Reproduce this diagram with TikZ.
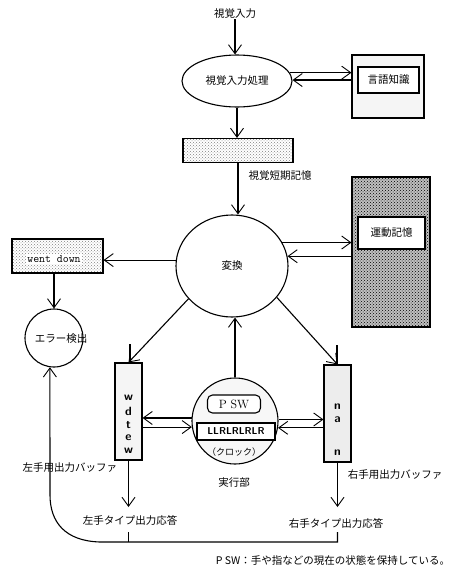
\documentclass[tikz,border=0pt]{standalone}
\usepackage{fontspec}
\newfontfamily\jp{Noto Sans CJK JP}
\usetikzlibrary{arrows.meta,shapes.geometric,patterns}
\tikzset{
  ar/.style={-{Straight Barb[length=9pt,width=13pt,line width=0.9pt]}, line width=1.1pt},
  ln/.style={line width=1.1pt},
  txt/.style={font=\jp\fontsize{10.5}{12}\selectfont, inner sep=0pt},
  ell/.style={ellipse, draw, line width=1.1pt, inner sep=0pt, font=\jp\fontsize{10.5}{12}\selectfont},
  bx/.style={draw, line width=1.1pt, inner sep=0pt},
  letter/.style={font=\sffamily\bfseries\fontsize{12}{13}\selectfont, inner sep=0pt},
}
\begin{document}
\begin{tikzpicture}[x=1pt,y=-1pt]
\useasboundingbox (0,0) rectangle (472,576);
% top
\node[txt] (vin) at (235,14) {視覚入力};
\node[ell, minimum width=110pt, minimum height=52pt] (proc) at (237,81) {視覚入力処理};
\draw[ar] (vin.south) -- (vin.south |- proc.north);
% language knowledge
\node[bx, fill=gray!8, minimum width=72pt, minimum height=63pt] (langout) at (388,86.5) {};
\node[bx, fill=white, minimum width=61pt, minimum height=26pt, font=\jp\fontsize{10.5}{12}\selectfont] (lang) at (388.5,80) {言語知識};
\draw[ar] (proc.9) -- (proc.9 -| langout.west);
\draw[ar] (langout.west |- proc.1) -- (proc.1);
% visual short-term memory
\node[bx, pattern=crosshatch dots, pattern color=gray, minimum width=110pt, minimum height=24pt] (vstm) at (238,150.5) {};
\draw[ar] (proc.south) -- (proc.south |- vstm.north);
\node[txt] (vstml) at (280,176) {視覚短期記憶};
% transform
\node[ell, minimum width=112pt, minimum height=102pt] (trans) at (232,266) {変換};
\draw[ar] (vstm.south) -- (vstm.south |- trans.north);
% motor memory
\node[bx, preaction={fill=gray!50}, pattern=crosshatch dots, pattern color=black, minimum width=78pt, minimum height=150pt] (motorout) at (391,252) {};
\node[bx, fill=white, minimum width=67pt, minimum height=32pt, font=\jp\fontsize{10.5}{12}\selectfont] (motor) at (391.5,233) {運動記憶};
\draw[ar] (trans.25) -- (trans.25 -| motorout.west);
\draw[ar] (motorout.west |- trans.10) -- (trans.10);
% went down
\node[bx, pattern=crosshatch dots, pattern color=gray, minimum width=91pt, minimum height=34pt] (wdbox) at (57.5,256) {};
\node[fill=white, inner sep=1pt, font=\ttfamily\fontsize{11.5}{12}\selectfont] (wd) at (54,259) {went down};
\draw[ar] (trans.174) -- (trans.174 -| wdbox.east);
% error detection
\node[circle, draw, line width=1.1pt, minimum size=58pt, inner sep=0pt] (err) at (54,338) {};
\node[txt] (errl) at (61,339) {エラー検出};
\draw[ar] (err.north |- wdbox.south) -- (err.north);
% buffers
\node[bx, fill=gray!8, minimum width=27pt, minimum height=97pt] (lbuf) at (128.5,411.5) {};
\node[letter] (l1) at (128.5,398) {w};
\node[letter] (l2) at (128.5,411) {d};
\node[letter] (l3) at (128.5,425) {t};
\node[letter] (l4) at (128.5,438) {e};
\node[letter] (l5) at (128.5,451) {w};
\node[bx, fill=gray!14, minimum width=27pt, minimum height=97pt] (rbuf) at (337.5,413.5) {};
\node[letter] (r1) at (337.5,407) {n};
\node[letter] (r2) at (337.5,420) {a};
\node[letter] (r3) at (337.5,453) {n};
\coordinate (lstubtop) at (130,344);
\coordinate (rstubtop) at (337,345);
\draw[ln] (lstubtop) -- (lstubtop |- lbuf.north);
\draw[ln] (rstubtop) -- (rstubtop |- rbuf.north);
\draw[ar] (trans.217) -- (lbuf.north);
\draw[ar] (trans.-35) -- (rbuf.north);
% executive
\node[circle, draw, line width=1.1pt, fill=gray!6, minimum size=86pt, inner sep=0pt] (exec) at (235,421) {};
\node[bx, rounded corners=5pt, fill=white, minimum width=53pt, minimum height=18pt, font=\fontsize{12}{13}\selectfont] (psw) at (234,404) {P SW};
\node[bx, fill=white, minimum width=78pt, minimum height=17pt, font=\sffamily\bfseries\fontsize{10}{11}\selectfont] (llr) at (236,431.5) {LLRLRLRLR};
\node[txt, font=\jp\fontsize{9}{10}\selectfont] (clk) at (234,452) {（クロック）};
\node[txt] (execl) at (234,483) {実行部};
\draw[ar] (exec.north) -- (exec.north |- trans.south);
\draw[ar] (exec.176) -- (exec.176 -| lbuf.east);
\draw[ar] (lbuf.east |- exec.188) -- (exec.188);
\draw[ar] (exec.2) -- (exec.2 -| rbuf.west);
\draw[ar] (rbuf.west |- exec.-9) -- (exec.-9);
% labels and outputs
\node[txt] (lbufl) at (70,468) {左手用出力バッファ};
\node[txt] (rbufl) at (395,475) {右手用出力バッファ};
\coordinate (lout) at (128.5,507);
\coordinate (rout) at (337.5,507);
\draw[ar] (lbuf.south) -- (lout);
\draw[ar] (rbuf.south) -- (rout);
\node[txt] (lresp) at (130,520) {左手タイプ出力応答};
\node[txt] (rresp) at (336,523) {右手タイプ出力応答};
% feedback loop
\coordinate (lstub) at (128.5,532);
\coordinate (rstub) at (337.5,532);
\coordinate (ljoin) at (128.5,542);
\coordinate (rjoin) at (337.5,542);
\coordinate (bend) at (100,542);
\coordinate (up) at (50,495);
\draw[ln] (lstub) -- (ljoin);
\draw[ar] (rstub) -- (rjoin) -- (bend) .. controls (65,541) and (50,522) .. (up) -- (err.262);
% footer
\node[txt, font=\jp\fontsize{10.5}{12}\selectfont] (foot) at (333,561) {P SW：手や指などの現在の状態を保持している。};
\end{tikzpicture}
\end{document}
